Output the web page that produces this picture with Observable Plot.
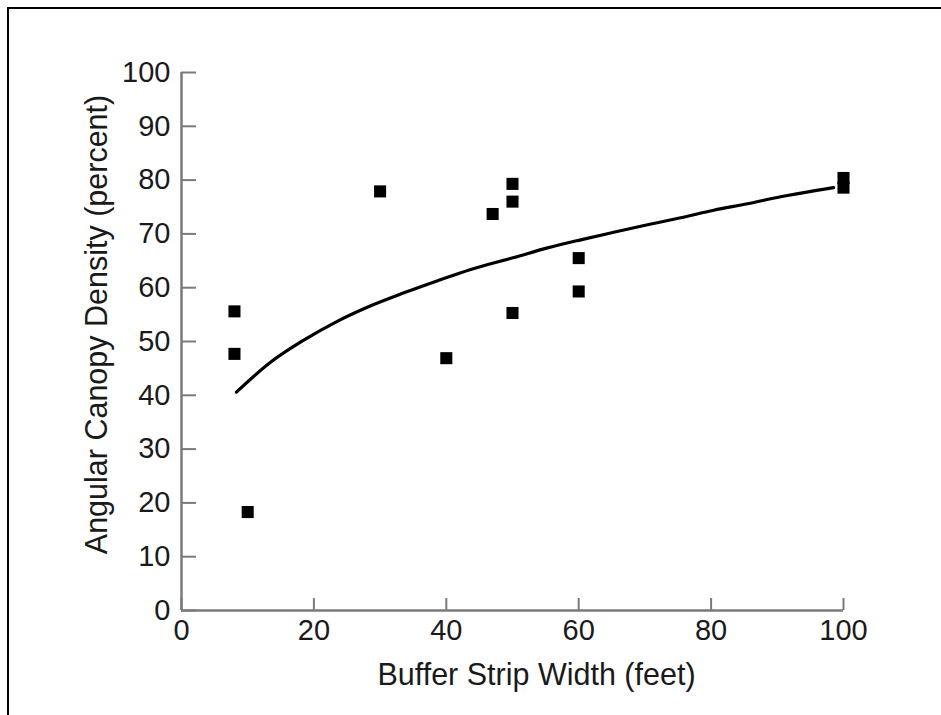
<!DOCTYPE html>
<html>
<head>
<meta charset="utf-8">
<script src="https://cdn.jsdelivr.net/npm/d3@7"></script>
<script src="https://cdn.jsdelivr.net/npm/@observablehq/plot@0.6"></script>
<style>
  html, body { margin: 0; padding: 0; background: #fff; }
  #wrap { position: relative; width: 941px; height: 715px; overflow: hidden; }
  #frame { position: absolute; left: 7px; top: 7px; width: 960px; height: 760px;
           border-left: 2px solid #000; border-top: 2px solid #000; box-sizing: border-box; }
  #chart { position: absolute; left: 0; top: 0; }
</style>
</head>
<body>
<div id="wrap"><div id="frame"></div><div id="chart"></div></div>
<script>
// Observed points
const widths   = [8, 8, 10, 30, 40, 47, 50, 50, 50, 60, 60, 100, 100];
const density  = [55.6, 47.7, 18.3, 77.9, 46.9, 73.7, 79.3, 76.0, 55.3, 65.5, 59.3, 80.4, 78.6];
// Fitted curve
const curveX = [8.3, 13.4, 18.4, 23.6, 28.5, 33.5, 38.7, 43.7, 50.2, 55.3, 60.3, 65.3, 70.4, 75.4, 80.4, 85.5, 90.5, 95.5, 98.5];
const curveY = [40.6, 46.1, 50.2, 53.8, 56.6, 59.0, 61.3, 63.4, 65.6, 67.4, 68.9, 70.3, 71.7, 73.0, 74.4, 75.6, 76.9, 78.0, 78.6];
const xTicks = [0, 20, 40, 60, 80, 100];
const yTicks = [0, 10, 20, 30, 40, 50, 60, 70, 80, 90, 100];
const xLabel = "Buffer Strip Width (feet)";
const yLabel = "Angular Canopy Density (percent)";

const points = widths.map((w, i) => ({x: w, y: density[i]}));
const curve = curveX.map((x, i) => ({x, y: curveY[i]}));

const W = 941, H = 715;
const mL = 181, mR = 98, mT = 72, mB = 105;
const innerW = W - mL - mR, innerH = H - mT - mB;
const axisGrey = "#7a7a7a";
const font = "'Liberation Sans', Arial, Helvetica, sans-serif";
const tickFs = 29, labelFs = 30.5;

const plot = Plot.plot({
  width: W, height: H,
  marginLeft: mL, marginRight: mR, marginTop: mT, marginBottom: mB,
  style: {fontFamily: font, fontSize: tickFs + "px", color: "#1a1a1a", background: "transparent", overflow: "visible"},
  x: {domain: [0, 100]},
  y: {domain: [0, 100]},
  marks: [
    Plot.axisX(xTicks, {tickSize: 0, tickPadding: 9, label: null, fontSize: tickFs}),
    Plot.axisY(yTicks, {tickSize: 0, tickPadding: 11, label: null, fontSize: tickFs}),
    Plot.tickX(xTicks, {x: d => d, stroke: axisGrey, strokeWidth: 2, insetTop: innerH - 12}),
    Plot.tickY(yTicks, {y: d => d, stroke: axisGrey, strokeWidth: 2, insetRight: innerW - 15}),
    Plot.ruleX([0], {stroke: axisGrey, strokeWidth: 2.5}),
    Plot.ruleY([0], {stroke: axisGrey, strokeWidth: 2.5}),
    Plot.line(curve, {x: "x", y: "y", stroke: "#000", strokeWidth: 3.2, curve: "monotone-x"}),
    Plot.dot(points, {x: "x", y: "y", symbol: "square", r: 6.8, fill: "#000", stroke: "none"}),
    Plot.text([xLabel], {frameAnchor: "bottom", dy: 74, dx: 24, fontSize: labelFs, fill: "#1a1a1a"}),
    Plot.text([yLabel], {frameAnchor: "left", textAnchor: "middle", rotate: -90, dx: -84, dy: -17, fontSize: labelFs, fill: "#1a1a1a"})
  ]
});
document.getElementById("chart").appendChild(plot);
</script>
</body>
</html>
